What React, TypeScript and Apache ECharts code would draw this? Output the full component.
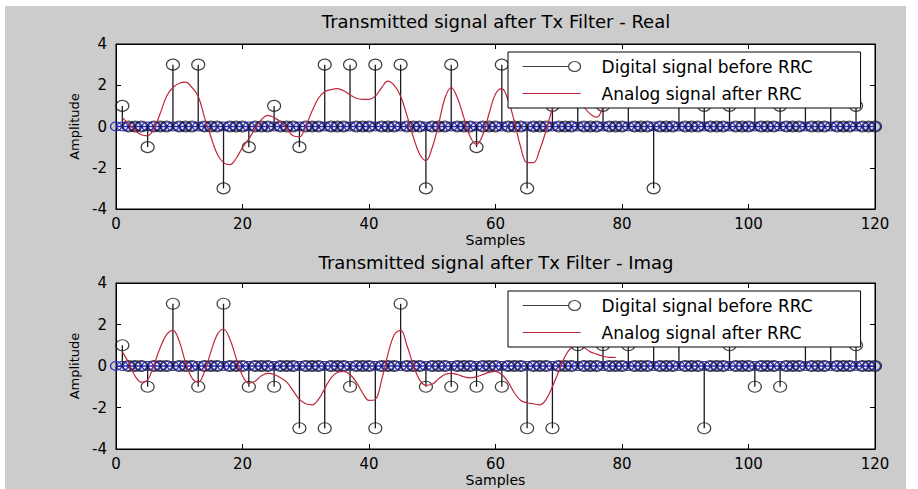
import React, { useEffect, useRef } from "react";
import * as echarts from "echarts";

// ---- data ----
const xTicks = [0, 20, 40, 60, 80, 100, 120];
const yTicks = [-4, -2, 0, 2, 4];
const UPSAMPLE = 4;
const FIRST_SAMPLE = 1;
const LAST_SAMPLE = 120;

const titles = [
  "Transmitted signal after Tx Filter - Real",
  "Transmitted signal after Tx Filter - Imag",
];
const legendNames = ["Digital signal before RRC", "Analog signal after RRC"];

// symbols at samples 1, 5, 9, ... 117
const realSymbols = [1, -1, 3, 3, -3, -1, 1, -1, 3, 3, 3, 3, -3, 3, -1, 3, -3, 1, 3, 1, 3, -3, 3, 1, 1, 3, 1, 3, 3, 1];
const imagSymbols = [1, -1, 3, -1, 3, -1, -1, -3, -3, -1, -3, 3, -1, -1, -1, -1, -3, -3, 1, 1, 1, 3, 3, -3, 1, -1, -1, 3, 3, 1];

// analog (after RRC) signal, sample 1 onwards
const realAnalog = [
  0.43, 0.12, -0.19, -0.4, -0.45, -0.09, 0.64, 1.47, 1.89, 2.1,
  2.15, 1.89, 1.47, 0.43, -0.5, -1.33, -1.75, -1.85, -1.54, -1.02,
  -0.6, -0.09, 0.33, 0.54, 0.43, 0.23, -0.09, -0.45, -0.5, 0.02,
  0.75, 1.37, 1.68, 1.79, 1.84, 1.73, 1.53, 1.37, 1.32, 1.32,
  1.47, 1.89, 2.2, 1.99, 1.47, 0.54, -0.5, -1.33, -1.65, -1.02,
  0.12, 1.37, 1.89, 1.37, 0.43, -0.5, -0.87, -0.4, 0.64, 1.58,
  1.84, 1.27, 0.23, -1.02, -1.75, -1.75, -1.13, -0.19, 0.85, 1.5,
  1.9, 1.8, 1.4, 0.95, 0.6, 0.45, 0.9, 1.3,
];
const imagAnalog = [
  0.68, 0.16, -0.47, -0.78, -0.67, 0.05, 0.89, 1.51, 1.72, 1.2,
  0.16, -0.57, -0.78, -0.26, 0.68, 1.51, 1.77, 1.3, 0.37, -0.47,
  -0.83, -0.73, -0.47, -0.36, -0.41, -0.57, -0.78, -1.19, -1.61, -1.82,
  -1.87, -1.61, -1.09, -0.57, -0.31, -0.26, -0.41, -0.78, -1.3, -1.66,
  -1.61, -0.67, 0.57, 1.51, 1.72, 0.99, 0.05, -0.67, -0.93, -0.88,
  -0.62, -0.41, -0.36, -0.41, -0.52, -0.57, -0.52, -0.41, -0.31, -0.26,
  -0.41, -0.78, -1.3, -1.66, -1.77, -1.82, -1.87, -1.61, -0.99, -0.26,
  0.47, 0.89, 1.04, 0.89, 0.68, 0.57, 0.47, 0.42, 0.42,
];

// ---- helpers ----
const FONT = "DejaVu Sans";
const RED = "#c0263a";
const ELLIPSE = "path://M0,50A50,50,0,1,1,100,50A50,50,0,1,1,0,50Z";
const LEGEND_STEM_ICON = "path://M0,6L46,6M46,6A6,5,0,1,1,58,6A6,5,0,1,1,46,6";
const LEGEND_LINE_ICON = "path://M0,6.4L58,6.4L58,7.6L0,7.6Z";

function upsampled(symbols: number[]): number[][] {
  const out: number[][] = [];
  for (let n = FIRST_SAMPLE; n <= LAST_SAMPLE; n++) {
    const k = (n - FIRST_SAMPLE) / UPSAMPLE;
    const v = Number.isInteger(k) && k < symbols.length ? symbols[k] : 0;
    out.push([n, v]);
  }
  return out;
}
function analogPairs(vals: number[]): number[][] {
  return vals.map((v, i) => [FIRST_SAMPLE + i, v]);
}
function baselinePairs(): number[][] {
  const out: number[][] = [];
  for (let n = 0; n <= LAST_SAMPLE; n++) out.push([n, 0]);
  return out;
}

const GRIDS = [
  { left: 116, top: 44, width: 759, height: 165 },
  { left: 116, top: 283, width: 759, height: 166 },
];
const TITLE_TOPS = [7, 248];
const LEGEND_TOPS = [52, 291];

export default function App() {
  const ref = useRef<HTMLDivElement>(null);
  useEffect(() => {
    if (!ref.current) return;
    const chart = echarts.init(ref.current, undefined, { renderer: "svg" });
    const digital = [upsampled(realSymbols), upsampled(imagSymbols)];
    const analog = [analogPairs(realAnalog), analogPairs(imagAnalog)];

    const xAxis: any[] = [];
    const yAxis: any[] = [];
    const series: any[] = [];
    GRIDS.forEach((_, g) => {
      const tick = { inside: true, length: 5, lineStyle: { color: "#000", width: 1 } };
      xAxis.push({
        gridIndex: g, type: "value", min: 0, max: 120, interval: 20, position: "bottom",
        axisLine: { show: true, onZero: false, lineStyle: { color: "#000" } },
        axisTick: tick,
        axisLabel: { color: "#000", fontSize: 15, fontFamily: FONT, margin: 7 },
        splitLine: { show: false },
        name: "Samples", nameLocation: "middle", nameGap: 24,
        nameTextStyle: { color: "#000", fontSize: 14, fontFamily: FONT },
      });
      xAxis.push({
        gridIndex: g, type: "value", min: 0, max: 120, interval: 20, position: "top",
        axisLine: { show: true, onZero: false, lineStyle: { color: "#000" } },
        axisTick: tick, axisLabel: { show: false }, splitLine: { show: false },
      });
      yAxis.push({
        gridIndex: g, type: "value", min: -4, max: 4, interval: 2, position: "left",
        axisLine: { show: true, onZero: false, lineStyle: { color: "#000" } },
        axisTick: tick,
        axisLabel: { color: "#000", fontSize: 15, fontFamily: FONT, margin: 9 },
        splitLine: { show: false },
        name: "Amplitude", nameLocation: "middle", nameGap: 35,
        nameTextStyle: { color: "#000", fontSize: 13, fontFamily: FONT },
      });
      yAxis.push({
        gridIndex: g, type: "value", min: -4, max: 4, interval: 2, position: "right",
        axisLine: { show: true, onZero: false, lineStyle: { color: "#000" } },
        axisTick: tick, axisLabel: { show: false }, splitLine: { show: false },
      });
      const xi = 2 * g;
      const yi = 2 * g;
      series.push({
        name: legendNames[0], type: "scatter", xAxisIndex: xi, yAxisIndex: yi,
        data: digital[g], symbol: ELLIPSE, symbolSize: [13, 11],
        itemStyle: { color: "rgba(0,0,0,0)", borderColor: "#111", borderWidth: 1.2 },
        z: 4, silent: true,
      });
      series.push({
        name: "baseline-" + g, type: "line", xAxisIndex: xi, yAxisIndex: yi,
        data: baselinePairs(), showSymbol: true, symbol: ELLIPSE, symbolSize: [11, 9],
        itemStyle: { color: "rgba(0,0,0,0)", borderColor: "#2b2bbb", borderWidth: 1.2 },
        lineStyle: { color: "#2b2bbb", width: 1.5 }, z: 3, silent: true,
      });
      series.push({
        name: "stems-" + g, type: "custom", xAxisIndex: xi, yAxisIndex: yi,
        data: digital[g], encode: { x: 0, y: 1 }, z: 2, silent: true,
        renderItem: (params: any, api: any) => {
          const p0 = api.coord([api.value(0), 0]);
          const p1 = api.coord([api.value(0), api.value(1)]);
          return {
            type: "line",
            shape: { x1: p0[0], y1: p0[1], x2: p1[0], y2: p1[1] },
            style: { stroke: "#1a1a22", lineWidth: 1.3 },
          };
        },
      });
      series.push({
        name: legendNames[1], type: "line", xAxisIndex: xi, yAxisIndex: yi,
        data: analog[g], showSymbol: false, symbol: "none", smooth: 0.4,
        lineStyle: { color: RED, width: 1.2 }, itemStyle: { color: RED },
        z: 5, silent: true,
      });
    });

    const legends = LEGEND_TOPS.map((top) => ({
      orient: "vertical", left: 508, top, z: 20,
      padding: [6, 48, 6, 14], itemGap: 10, itemWidth: 58, itemHeight: 14,
      backgroundColor: "#fff", borderColor: "#000", borderWidth: 1, borderRadius: 0,
      selectedMode: false,
      textStyle: { color: "#000", fontSize: 17, fontFamily: FONT, padding: [0, 0, 0, 16] },
      data: [
        {
          name: legendNames[0], icon: LEGEND_STEM_ICON,
          itemStyle: { color: "rgba(0,0,0,0)", borderColor: "#111", borderWidth: 1.2 },
        },
        {
          name: legendNames[1], icon: LEGEND_LINE_ICON,
          itemStyle: { color: RED, borderWidth: 0 },
        },
      ],
    }));

    chart.setOption({
      animation: false,
      backgroundColor: "#cccccc",
      title: titles.map((t, i) => ({
        text: t, left: 491, top: TITLE_TOPS[i], textAlign: "center",
        textStyle: { color: "#000", fontSize: 18, fontWeight: "normal", fontFamily: FONT },
      })),
      grid: GRIDS.map((r) => ({
        ...r, show: true, backgroundColor: "#fff", borderColor: "#000", borderWidth: 1,
      })),
      legend: legends,
      xAxis, yAxis, series,
      graphic: [
        { type: "rect", shape: { x: 0, y: 0, width: 918, height: 6 }, style: { fill: "#fff" }, silent: true },
        { type: "rect", shape: { x: 0, y: 0, width: 5, height: 489 }, style: { fill: "#fff" }, silent: true },
        { type: "rect", shape: { x: 906, y: 0, width: 12, height: 489 }, style: { fill: "#fff" }, silent: true },
      ],
    });
    return () => chart.dispose();
  }, []);
  return <div ref={ref} style={{ position: "fixed", left: 0, top: 0, width: 918, height: 489 }} />;
}
